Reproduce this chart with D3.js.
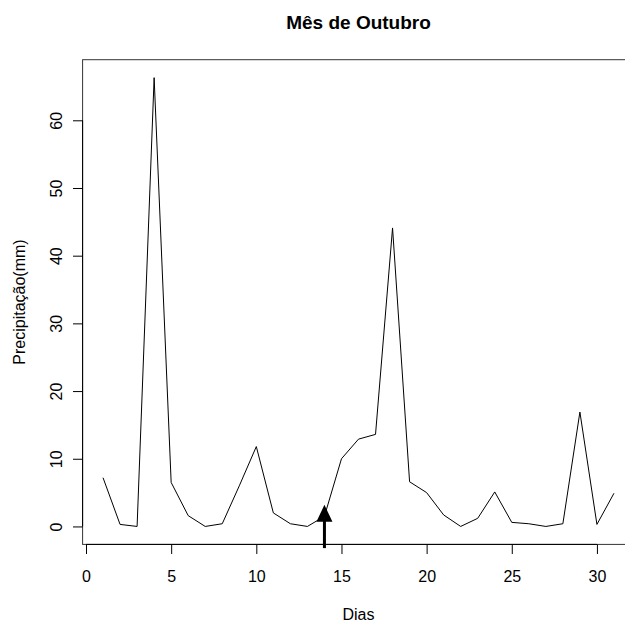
<!DOCTYPE html>
<html>
<head>
<meta charset="utf-8">
<script src="https://cdn.jsdelivr.net/npm/d3@7"></script>
<style>
  body { margin: 0; background: #fff; }
  svg text { font-family: "Liberation Sans", Arial, sans-serif; fill: #000; }
</style>
</head>
<body>
<svg id="chart" width="625" height="623"></svg>
<script>
// precipitation per day, October
var dias = [1,2,3,4,5,6,7,8,9,10,11,12,13,14,15,16,17,18,19,20,21,22,23,24,25,26,27,28,29,30,31];
var chuva = [7.2,0.3,0,66.3,6.5,1.6,0,0.4,6.0,11.8,2.0,0.4,0,1.5,10.0,12.9,13.6,44.1,6.6,5.0,1.7,0,1.2,5.1,0.6,0.4,0,0.4,16.9,0.3,4.9];
var xTickVals = [0,5,10,15,20,25,30];
var yTickVals = [0,10,20,30,40,50,60];
var seta = {dia: 14, de: -3.2, ate: 3.2};   // arrow under day 14

var FONT_SZE = "16px";
var TICK_LEN = 9.6;

var svg = d3.select("#chart");

// R style 4% extension of the data range
var xr = d3.extent(dias), yr = [0, d3.max(chuva)];
var xPad = (xr[1] - xr[0]) * 0.04, yPad = (yr[1] - yr[0]) * 0.04;

var x = d3.scaleLinear()
    .domain([xr[0] - xPad, xr[1] + xPad])
    .range([82.6, 634.4]);

var y = d3.scaleLinear()
    .domain([yr[0] - yPad, yr[1] + yPad])
    .range([544.4, 59.7]);

var midX = (x.range()[0] + x.range()[1]) / 2;

// plot box
svg.append("rect")
    .attr("x", x.range()[0])
    .attr("y", y.range()[1])
    .attr("width", x.range()[1] - x.range()[0])
    .attr("height", y.range()[0] - y.range()[1])
    .attr("fill", "none")
    .attr("stroke", "#333")
    .attr("stroke-width", 1);

// x axis
var xAxis = d3.axisBottom(x)
    .tickValues(xTickVals)
    .tickSize(TICK_LEN)
    .tickFormat(d3.format("d"));

var gx = svg.append("g")
    .attr("transform", "translate(0," + y.range()[0] + ")")
    .call(xAxis);
gx.select(".domain").remove();
gx.append("line")
    .attr("x1", x(d3.min(xTickVals))).attr("x2", x(d3.max(xTickVals)))
    .attr("stroke", "#000");
gx.selectAll("line").attr("stroke", "#000");
gx.selectAll("text")
    .style("font-size", FONT_SZE)
    .attr("dy", null)
    .attr("y", 38);

// y axis
var yAxis = d3.axisLeft(y)
    .tickValues(yTickVals)
    .tickSize(TICK_LEN)
    .tickFormat(d3.format("d"));

var gy = svg.append("g")
    .attr("transform", "translate(" + x.range()[0] + ",0)")
    .call(yAxis);
gy.select(".domain").remove();
gy.append("line")
    .attr("y1", y(d3.min(yTickVals))).attr("y2", y(d3.max(yTickVals)))
    .attr("stroke", "#000");
gy.selectAll("line").attr("stroke", "#000");
gy.selectAll(".tick text")
    .style("font-size", FONT_SZE)
    .attr("x", null).attr("dy", null)
    .attr("text-anchor", "middle")
    .attr("transform", "translate(-21,0) rotate(-90)");

// the series
var line = d3.line()
    .x(function(d, i) { return x(dias[i]); })
    .y(function(d) { return y(d); });

svg.append("path")
    .datum(chuva)
    .attr("d", line)
    .attr("fill", "none")
    .attr("stroke", "#000")
    .attr("stroke-width", 1)
    .attr("stroke-linejoin", "miter");

// arrow
var ax = x(seta.dia), aTip = y(seta.ate), aTail = y(seta.de);
svg.append("line")
    .attr("x1", ax).attr("x2", ax)
    .attr("y1", aTail).attr("y2", aTip + 12)
    .attr("stroke", "#000")
    .attr("stroke-width", 3);
svg.append("path")
    .attr("d", "M" + ax + "," + aTip + "L" + (ax - 8) + "," + (aTip + 17) + "L" + (ax + 8) + "," + (aTip + 17) + "Z")
    .attr("fill", "#000");

// titles
svg.append("text")
    .attr("x", midX)
    .attr("y", 28.5)
    .attr("text-anchor", "middle")
    .style("font-size", "19px")
    .style("font-weight", "bold")
    .text("Mês de Outubro");

svg.append("text")
    .attr("x", midX)
    .attr("y", 620)
    .attr("text-anchor", "middle")
    .style("font-size", FONT_SZE)
    .text("Dias");

svg.append("text")
    .attr("transform", "translate(25," + ((y.range()[0] + y.range()[1]) / 2) + ") rotate(-90)")
    .attr("text-anchor", "middle")
    .style("font-size", FONT_SZE)
    .text("Precipitação(mm)");
</script>
</body>
</html>
